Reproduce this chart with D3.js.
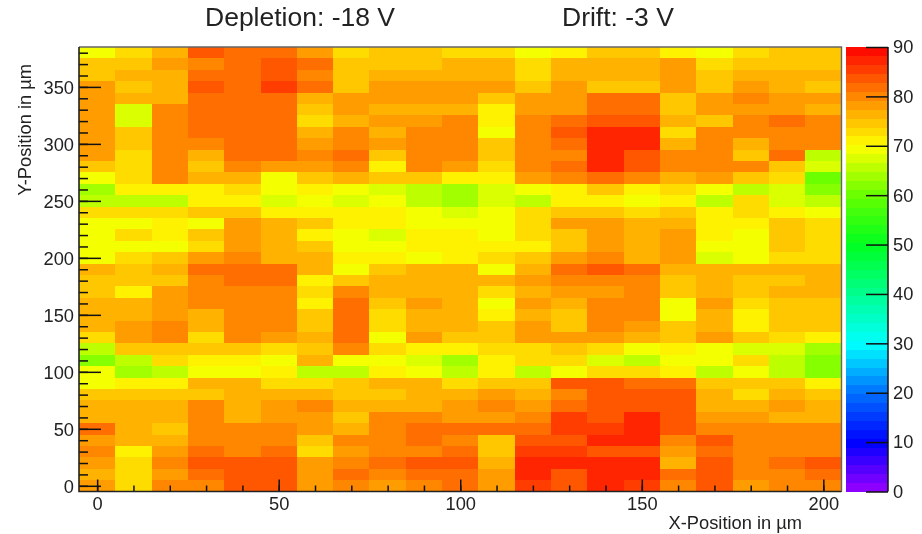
<!DOCTYPE html>
<html lang="en">
<head>
<meta charset="utf-8">
<title>Depletion -18 V, Drift -3 V</title>
<script src="https://d3js.org/d3.v7.min.js"></script>
<style>
html,body{margin:0;padding:0;background:#fff;}
svg{display:block;filter:blur(.4px);}
text{font-family:"Liberation Sans",Arial,sans-serif;fill:#222;}
</style>
</head>
<body>
<div id="chart"></div>
<script>
// bin centres in um
const xCenters = d3.range(0, 201, 10)
const yCenters = d3.range(380, -1, -10)  // top row first

// efficiency per cell, one line per row
const y380 = [70,73.5,77,84,81,81,79,73,74.5,74.5,73,73.5,70,71,75,75,71,70,73,75,75]
const y370 = [75.5,75.5,79,80,81.5,83,81,75.5,75.5,75.5,77,77,72,77,77,77,79,73,75.5,74.5,74.5]
const y360 = [75.5,77,77,82.5,81,83,80,75.5,77,77,77,77,73,77,77,77,79,75,77,76.5,76.5]
const y350 = [78,75.5,77,83,81,85,81,75.5,79,78,79,79,75.5,78.5,75,75,79,75,79,76.5,75]
const y340 = [79,77,77,82.5,82.5,82.5,77,79,79,79,79,75,79,79,81,81,74.5,79,80,79,79]
const y330 = [78,67.5,80,81,82,82,75.5,79,77,77,77,71,79,79,81,81,74.5,79,78,79,77]
const y320 = [78,67.5,80,81,81.5,81.5,72.5,77,78,78,79.5,71.5,79.5,82.5,84.5,84.5,77,75.5,79.5,81,79.5]
const y310 = [78,75,80.5,81,81,81,77,79.5,77,79.5,80,70,80,83,86.5,86.5,72.5,79.5,79.5,79.5,80]
const y300 = [79,75,80,80,82.5,81,78,80,78,79.5,80,75.5,80,82,86.5,86.5,77,80,77,79.5,80]
const y290 = [78,72.5,80,77,81,81,79.5,81.5,75.5,80,80,75.5,80,80,86.5,84.5,79.5,80,75.5,81,66.5]
const y280 = [75.5,72.5,80,74,79.5,78,78,80,71,80,78,73.5,80,82.5,86.5,84.5,80,80,80,74.5,67.5]
const y270 = [70,72.5,79.5,77,77,70,75.5,77,75.5,75.5,71,71.5,78,80,81.5,80,77,78.5,75.5,72.5,60]
const y260 = [63,71,71,71,72.5,70,71.5,69,67.5,65,63,67.5,70,71,75,71,72.5,70,65,67.5,62.5]
const y250 = [66,66,66,71,71,67.5,69,67.5,69,65,63,67,66,71,71,70,71,65,72,67.5,65]
const y240 = [72,72,72,75,75,71.5,71.5,71.5,71.5,69,67.5,70,72,75,75,72.5,75,71,73.5,71,70]
const y230 = [69.5,69.5,71,70,79,77,75,71,71,70,70,70,72,79,79,76.5,77,71,71,74.5,72.5]
const y220 = [69.5,72,71.5,74.5,79,77,71,70,67.5,71.5,71,70,73.5,75,79,77,79,71,70,74.5,72.5]
const y210 = [69.5,69.5,69.5,72.5,79,77,75,70,70,71,71,71.5,71.5,75,79,77,79,70,70,74.5,72.5]
const y200 = [69.5,73.5,75,79,80,77,77,71.5,71.5,70,71,72.5,75,79,79.5,77,79,67.5,70,72.5,72.5]
const y190 = [77,74.5,76.5,81,82.5,82.5,77,70,75.5,76.5,77,70,76.5,81,83.5,82.5,76.5,76.5,77,77,77]
const y180 = [74.5,74.5,75,79.5,81,81,71,75.5,77,77,77,76.5,79,79.5,80.5,80.5,74.5,76.5,74,74,76.5]
const y170 = [75,71,79,79.5,80.5,80.5,72.5,80.5,77,77,76.5,72,77,79,79,80.5,74.5,76.5,74.5,76.5,76.5]
const y160 = [76.5,76.5,79,79.5,80.5,80.5,71,82.5,75.5,79,76.5,70,79,76.5,80.5,80.5,70,79,72.5,74,74]
const y150 = [77,77,79,76.5,80.5,79.5,74.5,81,72.5,77,76.5,71.5,77,74.5,80.5,80.5,69.5,77,71,74,74]
const y140 = [77,79,80.5,76.5,80.5,80.5,74.5,81,72.5,77,76.5,75,78,74.5,80.5,79,74.5,77,71,74,74]
const y130 = [72.5,78.5,79.5,72.5,80.5,79,76.5,81,70,79,74.5,75.5,78,78,78.5,76.5,74.5,79,75.5,72.5,71]
const y120 = [65,74.5,74.5,75,75,72.5,74.5,79.5,72.5,71.5,71,72.5,72.5,75,72.5,70,71.5,69.5,67.5,67.5,64]
const y110 = [62,66,72,71,71,70,77,69.5,69.5,67.5,64,71,72,73.5,67.5,65,70,69.5,72,65,62]
const y100 = [70,64,65,70,70,71.5,65,65,71,70,66,71,65,70,72.5,72.5,71,66,69.5,65,62]
const y90  = [69.5,71.5,71.5,76.5,76.5,72.5,73,74.5,76.5,76.5,72.5,75.5,74.5,83.5,83,81,81,75,75,75,71]
const y80  = [74.5,74.5,74.5,74.5,76.5,76.5,77,75,75,76.5,77,78,76.5,80.5,83.5,83.5,83.5,76.5,72.5,76.5,74.5]
const y70  = [76.5,76.5,76.5,79.5,77,79,80.5,77,77,77,79,80.5,79,82.5,84.5,84.5,84.5,77,77,79,76.5]
const y60  = [76.5,76.5,76.5,79.5,76.5,79,79,75,80.5,79.5,79,79,80.5,85.5,84,86.5,84.5,79,79,76.5,76.5]
const y50  = [81.5,77,74,80.5,79.5,80.5,79,77,80.5,81,81,81,82,85.5,85.5,88,84.5,79.5,80.5,80.5,80.5]
const y40  = [79,77,77,80.5,80.5,80.5,74,80.5,80.5,81,80.5,74,84.5,84.5,86.5,86.5,79.5,83,80.5,80.5,80.5]
const y30  = [80.5,71,79,82.5,80.5,82,72.5,79,80.5,80.5,81,74,85.5,85.5,83.5,83.5,79,82.5,80,80.5,80.5]
const y20  = [79,72.5,80.5,84.5,84.5,84.5,79,79.5,81,83.5,83.5,77,86.5,86.5,88,88,77,84,80.5,82.5,84]
const y10  = [77,72.5,79,81,84,84,79,82,80.5,82,82,78.5,88,84.5,88,88,82,84,80,80.5,82.5]
const y0   = [79,72.5,80.5,80.5,84,84,79,80.5,78.5,80.5,82,79,85.5,84,87,85.5,80.5,83.5,79,80.5,80.5]
const rows = [y380,y370,y360,y350,y340,y330,y320,y310,y300,y290,y280,y270,y260,y250,y240,y230,y220,y210,y200,
              y190,y180,y170,y160,y150,y140,y130,y120,y110,y100,y90,y80,y70,y60,y50,y40,y30,y20,y10,y0]

const xTicks = [0,50,100,150,200]
const yTicks = [0,50,100,150,200,250,300,350]
const zTicks = [0,10,20,30,40,50,60,70,80,90]

// rainbow palette stops from the colour bar
const paletteValues = [0,10,20,30,40,50,60,70,80,90]
const paletteColors = ["#9a00ff","#0000ff","#0070ff","#00ffff","#00ff90","#00ff20","#66ff00","#ffff00","#ff8800","#ff0000"]
const nBands = 50
const binW = 10

const w = 922, h = 534
const plotL = 79, plotR = 841.5, plotT = 47, plotB = 491.5
const barL = 846, barR = 888
const labelSize = 18.3

const svg = d3.select("#chart").append("svg").attr("width",w).attr("height",h)

const xScale = d3.scaleLinear().domain([-5,205]).range([plotL,plotR])
const yScale = d3.scaleLinear().domain([-5,385]).range([plotB,plotT])
const zScale = d3.scaleLinear().domain([0,90]).range([plotB,plotT])

const ramp = d3.scaleLinear().domain(paletteValues).range(paletteColors).interpolate(d3.interpolateRgb)
const bandColors = d3.range(nBands).map(function(i){ return ramp((i+.5)*90/nBands) })
const cScale = d3.scaleQuantize().domain([0,90]).range(bandColors)

// heat map cells
const cells = []
rows.forEach(function(row,r){
    row.forEach(function(v,c){
        cells.push({x:xCenters[c],y:yCenters[r],v:v})
    })
})
svg.append("g").attr("shape-rendering","crispEdges").selectAll("rect")
    .data(cells)
    .enter()
    .append("rect")
    .attr("x",function(d){ return xScale(d.x-binW/2) })
    .attr("y",function(d){ return yScale(d.y+binW/2) })
    .attr("width",xScale(binW)-xScale(0))
    .attr("height",yScale(0)-yScale(binW))
    .attr("fill",function(d){ return cScale(d.v) })

// colour bar
svg.append("g").attr("shape-rendering","crispEdges").selectAll("rect")
    .data(d3.range(nBands))
    .enter()
    .append("rect")
    .attr("x",barL)
    .attr("y",function(i){ return zScale((i+1)*90/nBands) })
    .attr("width",barR-barL)
    .attr("height",zScale(0)-zScale(90/nBands)+.5)
    .attr("fill",function(i){ return bandColors[i] })

function styleAxis(g,width){
    g.selectAll("line").attr("stroke","#111").attr("stroke-width",width)
    g.selectAll("text").attr("font-size",labelSize).attr("fill","#222")
    g.select(".domain").remove()
}

// x axis, major and minor ticks point inwards
svg.append("g").attr("transform","translate(0,"+plotB+")")
    .call(d3.axisBottom(xScale).tickValues(d3.range(0,201,10)).tickSize(-6).tickFormat(""))
    .call(styleAxis,1.5)
svg.append("g").attr("transform","translate(0,"+plotB+")")
    .call(d3.axisBottom(xScale).tickValues(xTicks).tickSize(-12).tickFormat(d3.format("d")))
    .call(styleAxis,1.5)
    .selectAll("text").attr("y",6)

// y axis
svg.append("g").attr("transform","translate("+plotL+",0)")
    .call(d3.axisLeft(yScale).tickValues(yCenters).tickSize(-9).tickFormat(""))
    .call(styleAxis,1.5)
svg.append("g").attr("transform","translate("+plotL+",0)")
    .call(d3.axisLeft(yScale).tickValues(yTicks).tickSize(-22).tickFormat(d3.format("d")))
    .call(styleAxis,1.5)
    .selectAll("text").attr("x",-5).attr("y",1)

// colour bar axis
svg.append("g").attr("transform","translate("+barR+",0)")
    .call(d3.axisRight(zScale).tickValues(zTicks).tickSize(-22).tickFormat(d3.format("d")))
    .call(styleAxis,1.5)
    .selectAll("text").attr("x",5).attr("y",0)
svg.append("line").attr("x1",barR).attr("x2",barR).attr("y1",plotT).attr("y2",plotB)
    .attr("stroke","#111").attr("stroke-width",1.5)

// frame
svg.append("path")
    .attr("d","M"+plotL+","+plotT+"H"+plotR+"V"+plotB)
    .attr("fill","none").attr("stroke","#666").attr("stroke-width",1.4)
svg.append("path")
    .attr("d","M"+plotL+","+plotT+"V"+plotB+"H"+plotR)
    .attr("fill","none").attr("stroke","#222").attr("stroke-width",1.6)

// titles
svg.append("text").attr("x",205).attr("y",25.5).attr("font-size",26.5).text("Depletion: -18 V")
svg.append("text").attr("x",562).attr("y",25.5).attr("font-size",26.5).text("Drift: -3 V")
svg.append("text").attr("x",802).attr("y",529).attr("text-anchor","end").attr("font-size",labelSize).text("X-Position in µm")
svg.append("text").attr("transform","translate(30.5,64) rotate(-90)").attr("text-anchor","end").attr("font-size",labelSize).text("Y-Position in µm")
</script>
</body>
</html>
